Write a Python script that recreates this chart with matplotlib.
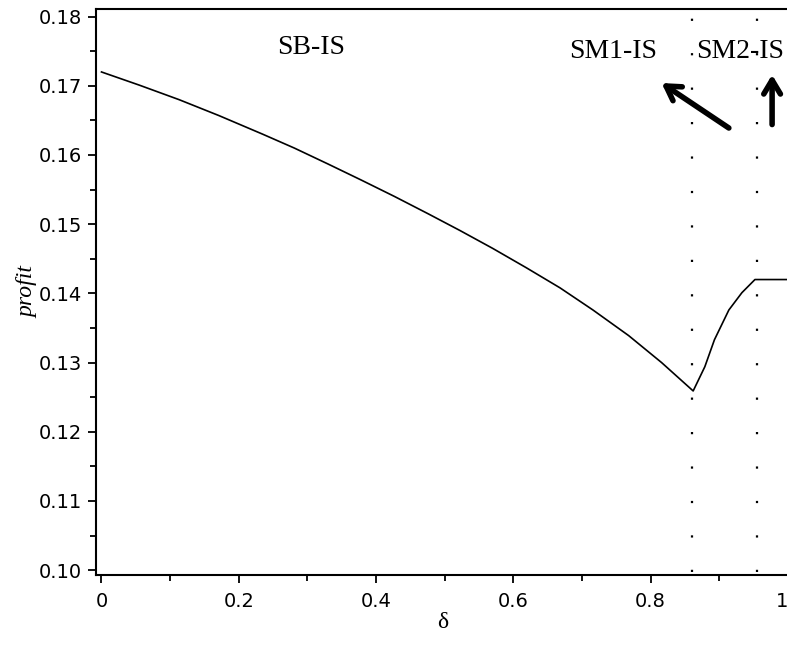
import matplotlib
matplotlib.use("Agg")
import matplotlib.pyplot as plt
from matplotlib.ticker import MultipleLocator, FixedLocator

# profit curve
delta = [0.0, 0.055, 0.113, 0.171, 0.235, 0.281, 0.330, 0.378, 0.427, 0.476,
         0.522, 0.570, 0.619, 0.668, 0.716, 0.768, 0.816, 0.862,
         0.879, 0.893, 0.914, 0.933, 0.952, 1.0]
profit = [0.1720, 0.1701, 0.1680, 0.1657, 0.1630, 0.1610, 0.1587, 0.1564, 0.1540, 0.1515,
          0.1491, 0.1465, 0.1437, 0.1408, 0.1376, 0.1339, 0.1300, 0.1259,
          0.1294, 0.1333, 0.1376, 0.1401, 0.1420, 0.1420]

# regime boundaries
bounds = [0.861, 0.955]

regions = ["SB-IS", "SM1-IS", "SM2-IS"]
x_ticks = [0, 0.2, 0.4, 0.6, 0.8, 1.0]
x_labels = ["0", "0.2", "0.4", "0.6", "0.8", "1"]
y_ticks = [0.10, 0.11, 0.12, 0.13, 0.14, 0.15, 0.16, 0.17, 0.18]
y_labels = ["0.10", "0.11", "0.12", "0.13", "0.14", "0.15", "0.16", "0.17", "0.18"]

fig = plt.figure(figsize=(7.87, 6.45), dpi=100)
ax = fig.add_axes([96 / 787, 1 - 575 / 645, 1 - 96 / 787 + 0.002, (575 - 9) / 645])

ax.plot(delta, profit, color="black", lw=1.2)
for b in bounds:
    ax.plot([b, b], [0.0998, 0.1811], color="black", lw=1.6, dashes=(1.0, 14.5))

ax.set_xlim(-0.008, 1.001)
ax.set_ylim(0.0993, 0.1811)

ax.spines["right"].set_visible(False)
for s in ["left", "bottom", "top"]:
    ax.spines[s].set_linewidth(1.5)

ax.xaxis.set_major_locator(FixedLocator(x_ticks))
ax.set_xticklabels(x_labels)
ax.xaxis.set_minor_locator(MultipleLocator(0.1))
ax.yaxis.set_major_locator(FixedLocator(y_ticks))
ax.set_yticklabels(y_labels)
ax.yaxis.set_minor_locator(MultipleLocator(0.005))
ax.tick_params(which="major", direction="out", length=6, width=1.3, labelsize=14, pad=4)
ax.tick_params(which="minor", direction="out", length=4, width=1.3)
ax.tick_params(axis="x", pad=6)
ax.get_xticklabels()[-1].set_horizontalalignment("right")

ax.set_xlabel("δ", family="Liberation Serif", fontsize=17, labelpad=1)
ax.set_ylabel("profit", family="Liberation Serif", style="italic", fontsize=17, labelpad=0)

ax.text(0.305, 0.1755, regions[0], family="Liberation Serif", fontsize=20, ha="center", va="center")
ax.text(0.746, 0.1750, regions[1], family="Liberation Serif", fontsize=20, ha="center", va="center", clip_on=False)
ax.text(0.867, 0.1749, regions[2], family="Liberation Serif", fontsize=20, ha="left", va="center", clip_on=False)

arrow = dict(arrowstyle="->,head_length=1.0,head_width=0.6", lw=4, color="black",
             shrinkA=0, shrinkB=0)
ax.annotate("", xy=(0.816, 0.1704), xytext=(0.914, 0.1639), arrowprops=arrow, annotation_clip=False)
ax.annotate("", xy=(0.977, 0.1716), xytext=(0.977, 0.1644), arrowprops=arrow, annotation_clip=False)

fig.savefig("out.png", dpi=100)
